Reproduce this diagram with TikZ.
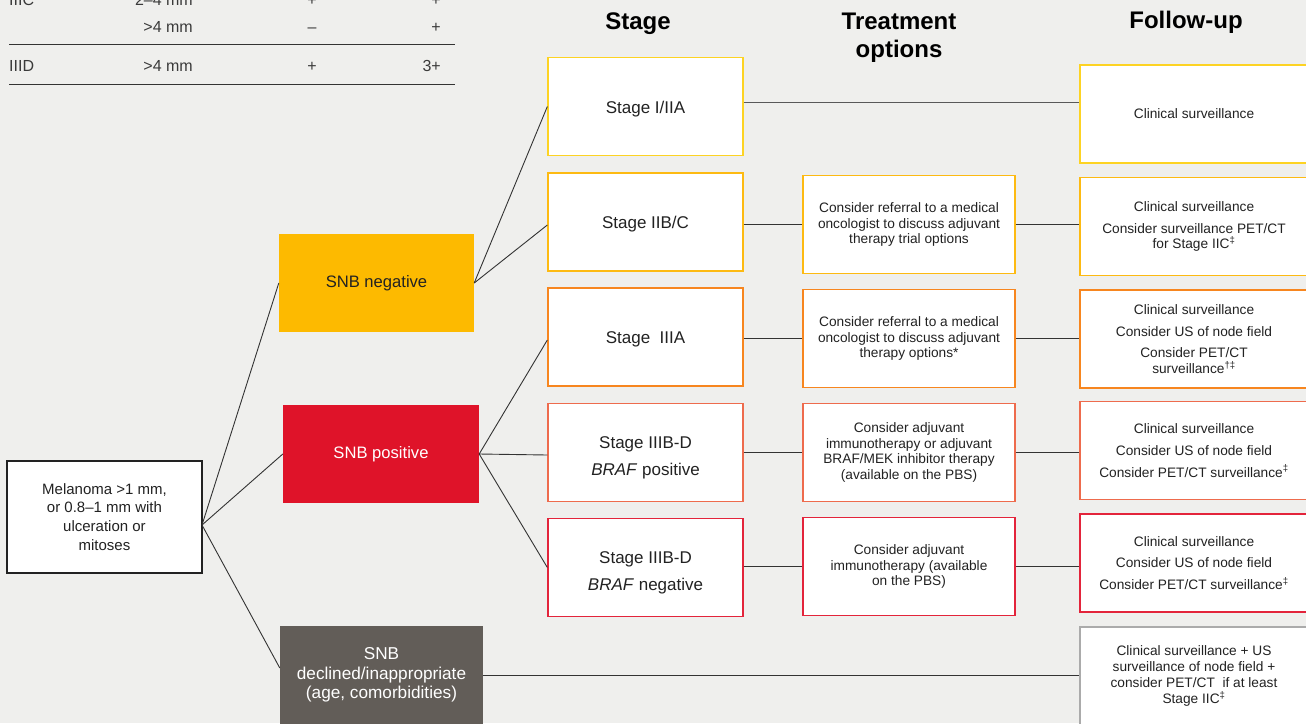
\documentclass[tikz,border=0pt]{standalone}
\usepackage{fontspec}
\setmainfont{Liberation Sans}
\definecolor{bg}{HTML}{EFEFED}
\definecolor{txt}{HTML}{222222}
\definecolor{tabtxt}{HTML}{3A3A3A}
\definecolor{linec}{HTML}{333333}
\definecolor{cyel}{HTML}{FDD323}
\definecolor{cambr}{HTML}{FDBA12}
\definecolor{corg}{HTML}{F7861F}
\definecolor{ccor}{HTML}{EE6B4D}
\definecolor{cred}{HTML}{E3243B}
\definecolor{snbneg}{HTML}{FDBA00}
\definecolor{snbpos}{HTML}{DF1329}
\definecolor{snbdec}{HTML}{625D58}
\definecolor{cgray}{HTML}{ABABAB}
\newcommand\mytopstrut{\rule{0pt}{22pt}}
\begin{document}
\begin{tikzpicture}[x=1pt,y=-1pt,
  box/.style={draw, fill=white, line width=1.3pt, inner sep=2pt, align=center, text=txt},
  stagebox/.style={box, minimum width=195pt, minimum height=98pt, font=\fontsize{17}{20}\selectfont},
  treatbox/.style={box, minimum width=212pt, minimum height=98pt, font=\fontsize{13.7}{15.8}\selectfont},
  fubox/.style={box, minimum width=228pt, minimum height=98pt, font=\fontsize{13.7}{15.8}\selectfont},
  snbbox/.style={inner sep=2pt, align=center, minimum height=98pt},
  head/.style={align=center, font=\bfseries\fontsize{24}{28}\selectfont, text=black},
  tabt/.style={inner sep=0pt, text=tabtxt, font=\fontsize{16}{19}\selectfont},
  conn/.style={draw=linec, line width=0.9pt},
]
\clip (0,0) rectangle (1306,723);
\fill[bg] (0,0) rectangle (1306,723);

% ---- table fragment ----
\node[tabt, anchor=base west] (t1a) at (9,5) {IIIC};
\node[tabt, anchor=base east] (t1b) at (193,5) {2–4 mm};
\node[tabt, anchor=base] (t1c) at (312,5) {+};
\node[tabt, anchor=base east] (t1d) at (441,5) {+};
\node[tabt, anchor=base east] (t2b) at (193,32) {>4 mm};
\node[tabt, anchor=base] (t2c) at (312,32) {–};
\node[tabt, anchor=base east] (t2d) at (441,32) {+};
\node[tabt, anchor=base west] (t3a) at (9,71) {IIID};
\node[tabt, anchor=base east] (t3b) at (193,71) {>4 mm};
\node[tabt, anchor=base] (t3c) at (312,71) {+};
\node[tabt, anchor=base east] (t3d) at (441,71) {3+};
\draw[draw=linec, line width=1pt] (9,44) -- (455,44);
\draw[draw=linec, line width=1pt] (9,84) -- (455,84);

% ---- headers ----
\node[head] (hs) at (638,24) {Stage};
\node[head] (ht) at (899,38) {Treatment\\options};
\node[head] (hf) at (1186,22) {Follow-up};

% ---- left nodes ----
\node[box, draw=txt, minimum width=195pt, minimum height=112pt, font=\fontsize{15}{18.8}\selectfont] (mel) at (104.5,517) {Melanoma >1 mm,\\or 0.8–1 mm with\\ulceration or\\mitoses};
\node[snbbox, fill=snbneg, minimum width=195pt, text=txt, font=\fontsize{16.6}{19.5}\selectfont] (neg) at (376.5,283) {SNB negative};
\node[snbbox, fill=snbpos, minimum width=196pt, text=white, font=\fontsize{16.6}{19.5}\selectfont] (pos) at (381,454) {SNB positive};
\node[snbbox, fill=snbdec, minimum width=203pt, text=white, font=\fontsize{17.2}{19.5}\selectfont] (dec) at (381.5,675) {SNB\\declined/inappropriate\\(age, comorbidities)};

% ---- stage nodes ----
\node[stagebox, draw=cyel] (s1) at (645.5,106.5) {\rule{0pt}{17pt}Stage I/IIA};
\node[stagebox, draw=cambr] (s2) at (645.5,222) {\rule{0pt}{17pt}Stage IIB/C};
\node[stagebox, draw=corg] (s3) at (645.5,337) {\rule{0pt}{17pt}Stage\ \ IIIA};
\node[stagebox, draw=ccor] (s4) at (645.5,452.5) {\mytopstrut Stage IIIB-D\\[7pt]\textit{BRAF} positive};
\node[stagebox, draw=cred] (s5) at (645.5,567.5) {\mytopstrut Stage IIIB-D\\[7pt]\textit{BRAF} negative};

% ---- treatment nodes ----
\node[treatbox, draw=cambr] (tr2) at (909,224.5) {Consider referral to a medical\\oncologist to discuss adjuvant\\therapy trial options};
\node[treatbox, draw=corg] (tr3) at (909,338.5) {Consider referral to a medical\\oncologist to discuss adjuvant\\therapy options*};
\node[treatbox, draw=ccor] (tr4) at (909,452.5) {Consider adjuvant\\immunotherapy or adjuvant\\BRAF/MEK inhibitor therapy\\(available on the PBS)};
\node[treatbox, draw=cred] (tr5) at (909,566.5) {Consider adjuvant\\immunotherapy (available\\on the PBS)};

% ---- follow-up nodes ----
\node[fubox, draw=cyel] (f1) at (1194,114) {Clinical surveillance};
\node[fubox, draw=cambr] (f2) at (1194,226.5) {Clinical surveillance\\[6pt]Consider surveillance PET/CT\\for Stage IIC\textsuperscript{‡}};
\node[fubox, draw=corg] (f3) at (1194,339) {Clinical surveillance\\[6pt]Consider US of node field\\[6pt]Consider PET/CT\\surveillance\textsuperscript{†‡}};
\node[fubox, draw=ccor] (f4) at (1194,450.5) {Clinical surveillance\\[6pt]Consider US of node field\\[6pt]Consider PET/CT surveillance\textsuperscript{‡}};
\node[fubox, draw=cred] (f5) at (1194,563) {Clinical surveillance\\[6pt]Consider US of node field\\[6pt]Consider PET/CT surveillance\textsuperscript{‡}};
\node[fubox, draw=cgray] (f6) at (1194,676) {Clinical surveillance + US\\surveillance of node field +\\consider PET/CT\ \ if at least\\Stage IIC\textsuperscript{‡}};

% ---- connectors ----
\coordinate (mo) at (202,525);
\draw[conn] (mo) -- (neg.west);
\draw[conn] (mo) -- (pos.west);
\draw[conn] (mo) -- (dec.west |- 0,668);
\draw[conn] (neg.east) -- (s1.west);
\draw[conn] (neg.east) -- (s2.west |- 0,225);
\draw[conn] (pos.east) -- (s3.west |- 0,340);
\draw[conn] (pos.east) -- (s4.west |- 0,455);
\draw[conn] (pos.east) -- (s5.west);
\draw[draw=black!65, line width=1pt] (s1.east |- 0,102) -- (f1.west |- 0,102);
\draw[conn] (s2.east |- tr2) -- (tr2.west);
\draw[conn] (tr2.east) -- (f2.west |- tr2);
\draw[conn] (s3.east |- tr3) -- (tr3.west);
\draw[conn] (tr3.east) -- (f3.west |- tr3);
\draw[conn] (s4.east |- tr4) -- (tr4.west);
\draw[conn] (tr4.east) -- (f4.west |- tr4);
\draw[conn] (s5.east |- tr5) -- (tr5.west);
\draw[conn] (tr5.east) -- (f5.west |- tr5);
\draw[conn] (dec.east) -- (f6.west |- dec.east);
\end{tikzpicture}
\end{document}
